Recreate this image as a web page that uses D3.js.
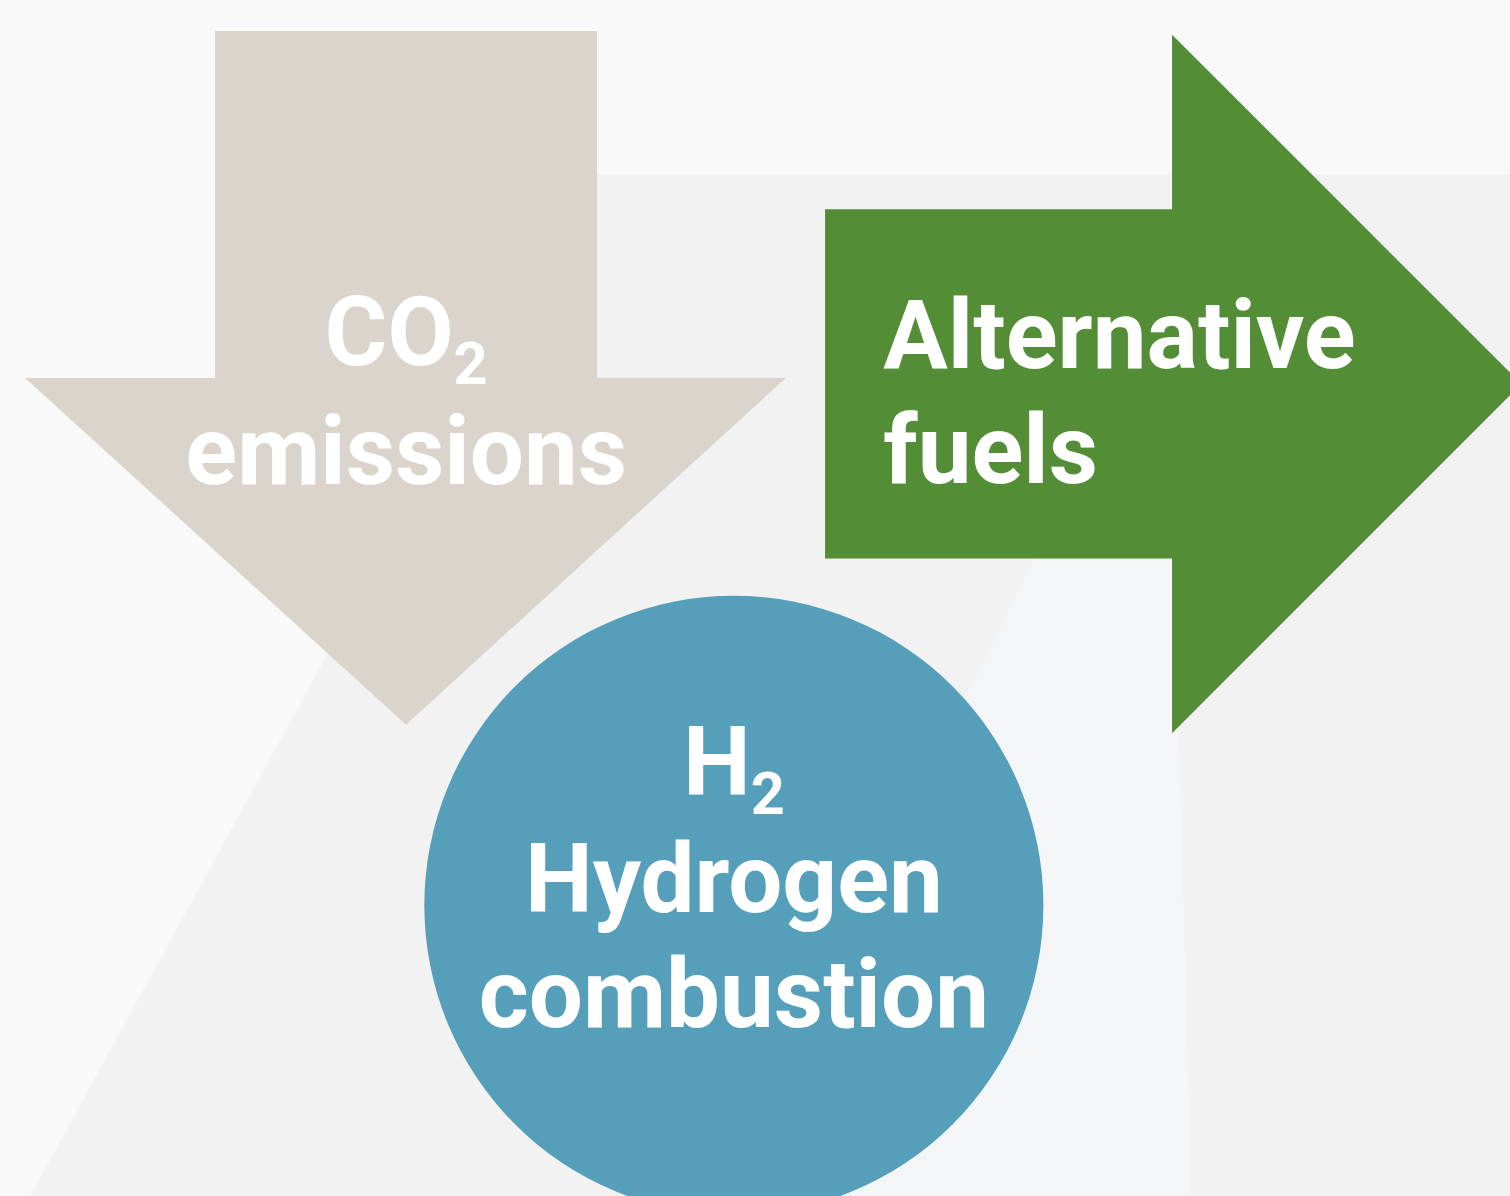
<!DOCTYPE html>
<html>
<head>
<meta charset="utf-8">
<script src="https://cdn.jsdelivr.net/npm/d3@7"></script>
<style>
  html, body { margin: 0; padding: 0; background: #f9f9f9; overflow: hidden; }
  svg { display: block; }
  text { font-family: Roboto, "Noto Sans", sans-serif; font-weight: 700; fill: #ffffff; }
</style>
</head>
<body>
<svg id="chart"></svg>
<script>
width = 1510;
height = 1196;

// labels for the three shapes
co2Label = ["CO", "2"];
co2Lines = ["emissions"];
fuelLines = ["Alternative", "fuels"];
h2Label = ["H", "2"];
h2Lines = ["Hydrogen", "combustion"];

shapeNames = ["co2", "fuels", "h2"];
shapeColors = ["#dbd4cd", "#538d36", "#569fba"];

// unit space -> pixels, everything goes through scales
x = d3.scaleLinear().domain([0, 100]).range([0, width]);
y = d3.scaleLinear().domain([0, 100]).range([0, height]);

svg = d3.select("#chart").attr("width", width).attr("height", height);

function poly(pts){
	return d3.line().x(d => x(d[0])).y(d => y(d[1]))(pts) + "Z";
}

// background panels
bg = svg.append("g");
bg.append("rect").attr("width", width).attr("height", height).attr("fill", "#f9f9f9");
bg.append("path")
	.attr("d", poly([[39.1, 14.6], [100, 14.6], [100, 100], [2, 100]]))
	.attr("fill", "#f2f2f2");
bg.append("path")
	.attr("d", poly([[71.2, 40], [77.6, 40], [78.9, 100], [47.4, 100]]))
	.attr("fill", "#f4f5f7");

// down arrow (CO2)
svg.append("path")
	.attr("d", poly([[14.24, 2.6], [39.54, 2.6], [39.54, 31.6], [52.05, 31.6],
		[26.89, 60.6], [1.66, 31.6], [14.24, 31.6]]))
	.attr("fill", shapeColors[0]);

// right arrow (fuels), tip runs just past the edge
svg.append("path")
	.attr("d", poly([[54.64, 17.5], [77.62, 17.5], [77.62, 2.9], [100.75, 32.1],
		[77.62, 61.3], [77.62, 46.7], [54.64, 46.7]]))
	.attr("fill", shapeColors[1]);

// circle (H2)
svg.append("circle")
	.attr("cx", x(48.6))
	.attr("cy", y(75.7))
	.attr("r", x(20.5))
	.attr("fill", shapeColors[2]);

// text with subscript helper
function formula(cx, base, parts, size){
	let t = svg.append("text")
		.attr("x", cx)
		.attr("y", base)
		.attr("text-anchor", "middle")
		.style("font-size", size + "px");
	t.append("tspan").text(parts[0]);
	t.append("tspan")
		.attr("dy", size * 0.2)
		.style("font-size", (size * 0.62) + "px")
		.text(parts[1]);
	return t;
}

fs = 96;
formula(x(26.9), 365, co2Label, fs);
co2Lines.forEach((s, i) => {
	svg.append("text").attr("x", x(26.9)).attr("y", 484 + i * 115)
		.attr("text-anchor", "middle").style("font-size", fs + "px").text(s);
});

fuelLines.forEach((s, i) => {
	svg.append("text").attr("x", x(58.5)).attr("y", 368 + i * 115)
		.attr("text-anchor", "start").style("font-size", fs + "px").text(s);
});

formula(x(48.6), 795, h2Label, fs);
h2Lines.forEach((s, i) => {
	svg.append("text").attr("x", x(48.6)).attr("y", 912 + i * 115)
		.attr("text-anchor", "middle").style("font-size", fs + "px").text(s);
});
</script>
</body>
</html>
